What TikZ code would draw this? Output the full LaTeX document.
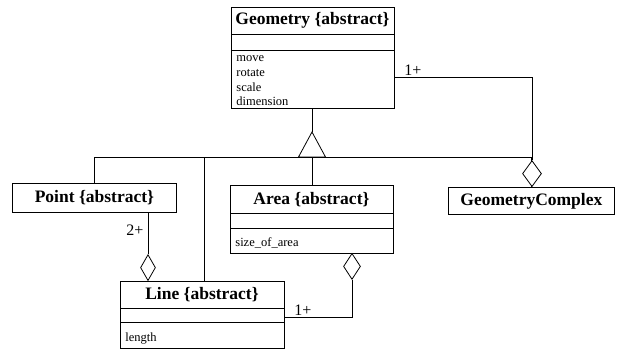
\documentclass[tikz,border=0pt]{standalone}
\usepackage{fontspec}
\setmainfont{Liberation Serif}
\usetikzlibrary{shapes.geometric}

\begin{document}
\begin{tikzpicture}[x=1pt,y=-1pt,
  line width=0.8pt,
  classbox/.style={draw, anchor=north west, inner sep=0pt},
  classname/.style={font=\fontsize{17.5}{19}\selectfont\bfseries, inner sep=0pt},
  member/.style={font=\fontsize{12.5}{14}\selectfont, anchor=west, inner sep=0pt},
  mult/.style={font=\fontsize{16}{17}\selectfont, inner sep=0pt},
  aggr/.style={diamond, draw, fill=white, inner sep=0pt, minimum width=#1, minimum height=26pt},
  aggr/.default=16pt]
\useasboundingbox (0,0) rectangle (619,349);

% ---- Geometry {abstract}
\node[classbox, minimum width=163pt, minimum height=101pt] (geo) at (231,7) {};
\draw (231,34) -- (394,34) (231,50) -- (394,50);
\node[classname] (geoT) at (312.5,20.5) {Geometry \{abstract\}};
\node[member] (m1) at (236,59) {move};
\node[member] (m2) at (236,73) {rotate};
\node[member] (m3) at (236,87) {scale};
\node[member] (m4) at (236,101) {dimension};

% ---- Point {abstract}
\node[classbox, minimum width=164pt, minimum height=29pt] (pt) at (12,183) {};
\node[classname] (ptT) at (pt.center) {Point \{abstract\}};

% ---- Area {abstract}
\node[classbox, minimum width=163pt, minimum height=68pt] (ar) at (230,185) {};
\draw (230,213) -- (393,213) (230,228) -- (393,228);
\node[classname] (arT) at (311.5,200) {Area \{abstract\}};
\node[member] (a1) at (235,243) {size\_of\_area};

% ---- Line {abstract}
\node[classbox, minimum width=164pt, minimum height=67pt] (ln) at (120,281) {};
\draw (120,308) -- (284,308) (120,322) -- (284,322);
\node[classname] (lnT) at (202,295) {Line \{abstract\}};
\node[member] (l1) at (125,339) {length};

% ---- GeometryComplex
\node[classbox, minimum width=166pt, minimum height=27pt] (gc) at (448,187) {};
\node[classname] (gcT) at (gc.center) {GeometryComplex};

% ---- generalization
\coordinate (tip) at (312,132);
\coordinate (bar) at (312,157);
\draw (geo.south -| tip) -- (tip);
\draw (tip) -- ++(-13.5,25) -- ++(27,0) -- cycle;
\draw (pt.north |- bar) -- (pt.north)
      (pt.north |- bar) -- (gc.north |- bar) -- (gc.north);
\draw (bar) -- (ar.north -| bar);
\draw (204,157) -- (ln.north -| 204,0);

% ---- Point aggregated by Line
\node[aggr=15pt, anchor=south] (d1) at (148,281) {};
\draw (d1.north) -- (pt.south -| d1.north);
\node[mult] (k1) at (135,230) {2+};

% ---- Line aggregated by Area
\node[aggr=17pt, anchor=north] (d2) at (352,253) {};
\coordinate (c2) at (352,317);
\draw (d2.south) -- (c2) -- (ln.east |- c2);
\node[mult] (k2) at (303,310) {1+};

% ---- Geometry aggregated by GeometryComplex
\node[aggr=19pt, anchor=south] (d3) at (532,187) {};
\coordinate (c3) at (532,77);
\draw (geo.east |- c3) -- (c3) -- (d3.north);
\node[mult] (k3) at (413,70) {1+};
\end{tikzpicture}
\end{document}
